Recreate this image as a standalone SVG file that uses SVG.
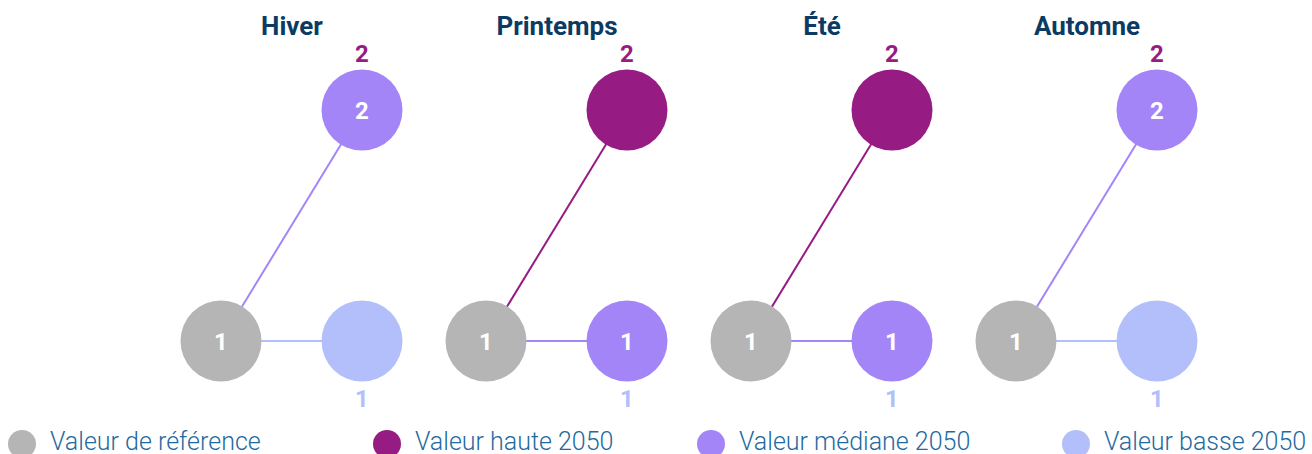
<svg xmlns="http://www.w3.org/2000/svg" width="1312" height="454" viewBox="0 0 1312 454">
<style>
.title{font-family:Roboto,"Liberation Sans",sans-serif;font-weight:700;font-size:26px;fill:#0B3A63;text-anchor:middle}
.num{font-family:Roboto,"Liberation Sans",sans-serif;font-weight:700;font-size:24px;text-anchor:middle}
.in{fill:#ffffff}
.hi{fill:#961B83}
.lo{fill:#B3BFFA}
.leg{font-family:Roboto,"Liberation Sans",sans-serif;font-weight:300;font-size:25px;fill:#1F6AA0}
.ref{fill:#B5B5B5}
.high{fill:#961B83}
.med{fill:#A385F8}
.low{fill:#B3BFFA}
.c{stroke-width:2;fill:none}
</style>
<g id="connectors">
<line class="c" x1="221" y1="341" x2="362" y2="110" stroke="#A385F8"/>
<line class="c" x1="221" y1="341" x2="362" y2="341" stroke="#B3BFFA"/>
<line class="c" x1="486" y1="341" x2="627" y2="110" stroke="#961B83"/>
<line class="c" x1="486" y1="341" x2="627" y2="341" stroke="#A385F8"/>
<line class="c" x1="751" y1="341" x2="892" y2="110" stroke="#961B83"/>
<line class="c" x1="751" y1="341" x2="892" y2="341" stroke="#A385F8"/>
<line class="c" x1="1016" y1="341" x2="1157" y2="110" stroke="#A385F8"/>
<line class="c" x1="1016" y1="341" x2="1157" y2="341" stroke="#B3BFFA"/>
</g>
<g id="hiver">
<text class="title" x="292" y="35">Hiver</text>
<text class="num hi" x="362" y="62">2</text>
<circle class="med" cx="362" cy="110" r="40.5"/>
<text class="num in" x="362" y="119">2</text>
<circle class="ref" cx="221" cy="341" r="40.5"/>
<text class="num in" x="221" y="350">1</text>
<circle class="low" cx="362" cy="341" r="40.5"/>
<text class="num lo" x="362" y="407">1</text>
</g>
<g id="printemps">
<text class="title" x="557" y="35">Printemps</text>
<text class="num hi" x="627" y="62">2</text>
<circle class="high" cx="627" cy="110" r="40.5"/>
<circle class="ref" cx="486" cy="341" r="40.5"/>
<text class="num in" x="486" y="350">1</text>
<circle class="med" cx="627" cy="341" r="40.5"/>
<text class="num in" x="627" y="350">1</text>
<text class="num lo" x="627" y="407">1</text>
</g>
<g id="ete">
<text class="title" x="822" y="35">Été</text>
<text class="num hi" x="892" y="62">2</text>
<circle class="high" cx="892" cy="110" r="40.5"/>
<circle class="ref" cx="751" cy="341" r="40.5"/>
<text class="num in" x="751" y="350">1</text>
<circle class="med" cx="892" cy="341" r="40.5"/>
<text class="num in" x="892" y="350">1</text>
<text class="num lo" x="892" y="407">1</text>
</g>
<g id="automne">
<text class="title" x="1087" y="35">Automne</text>
<text class="num hi" x="1157" y="62">2</text>
<circle class="med" cx="1157" cy="110" r="40.5"/>
<text class="num in" x="1157" y="119">2</text>
<circle class="ref" cx="1016" cy="341" r="40.5"/>
<text class="num in" x="1016" y="350">1</text>
<circle class="low" cx="1157" cy="341" r="40.5"/>
<text class="num lo" x="1157" y="407">1</text>
</g>
<g id="legend">
<circle class="ref" cx="22" cy="444" r="14"/>
<text class="leg" x="50" y="450">Valeur de référence</text>
<circle class="high" cx="387" cy="444" r="14"/>
<text class="leg" x="415" y="450">Valeur haute 2050</text>
<circle class="med" cx="711" cy="444" r="14"/>
<text class="leg" x="739" y="450">Valeur médiane 2050</text>
<circle class="low" cx="1076" cy="444" r="14"/>
<text class="leg" x="1104" y="450">Valeur basse 2050</text>
</g>
</svg>
